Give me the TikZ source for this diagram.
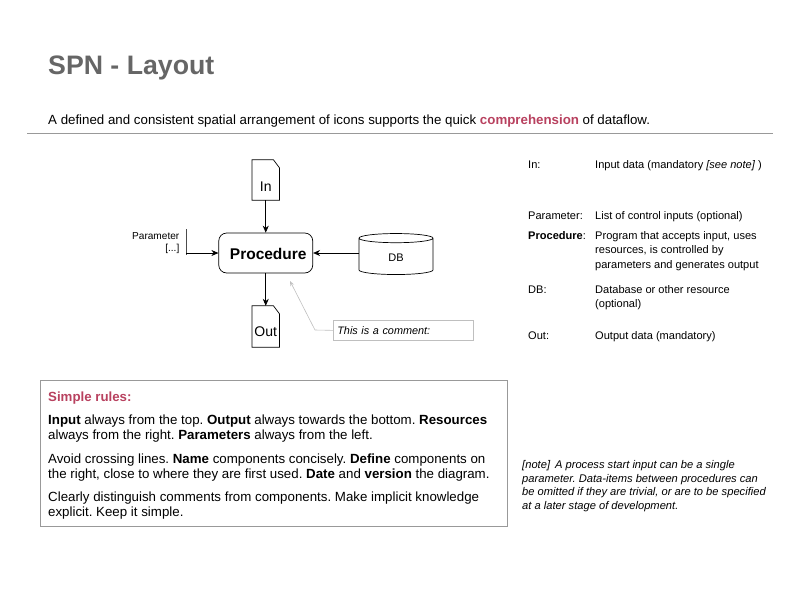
\documentclass[tikz,border=0pt]{standalone}
\usepackage{fontspec}
\setmainfont{Liberation Sans}
\usetikzlibrary{arrows.meta,positioning,shapes.geometric}
\definecolor{titlegray}{HTML}{666666}
\definecolor{rulegray}{HTML}{999999}
\definecolor{accent}{HTML}{B8415F}
\AtBeginDocument{\frenchspacing}
\newcommand{\docframe}[1]{\draw[line width=0.7pt] (#1.south west) -- (#1.north west) -- ([xshift=-6pt]#1.north east) -- ([yshift=-8pt]#1.north east) -- (#1.south east) -- cycle;}
\newcommand{\lowered}[2]{\raisebox{-#1}[0pt][0pt]{#2}}

\begin{document}
\begin{tikzpicture}[
  x=1pt, y=-1pt,
  lead/.style={anchor=base west, inner sep=0pt, font=\fontsize{13.3}{16}\selectfont},
  defn/.style={anchor=north west, inner sep=0pt, align=left, font=\fontsize{11.05}{14.2}\selectfont, execute at begin node=\strut},
  rule/.style={anchor=north west, inner sep=0pt, align=left, font=\fontsize{13.3}{14.5}\selectfont},
  doc/.style={minimum width=27pt, minimum height=40pt, inner sep=0pt, font=\fontsize{14}{16}\selectfont},
  proc/.style={rectangle, draw, rounded corners=8pt, line width=0.7pt, minimum width=94pt, minimum height=40pt,
    font=\bfseries\fontsize{15.5}{16}\selectfont},
  store/.style={cylinder, shape border rotate=90, draw, line width=0.7pt, aspect=0.6, minimum width=74pt, minimum height=41pt,
    inner sep=0pt, font=\fontsize{11}{13}\selectfont},
  rel/.style={-{Stealth[length=7pt,width=6pt]}, line width=0.7pt},
  note/.style={-{Stealth[open,length=5pt,width=4pt]}, draw=black!25, line width=0.6pt}
]
  \useasboundingbox (0,0) rectangle (800,600);

  % heading
  \node[anchor=base west, inner sep=0pt, text=titlegray, font=\bfseries\fontsize{26.7}{30}\selectfont] (title) at (48,74) {SPN - Layout};
  \node[lead] (intro) at (48,124) {A defined and consistent spatial arrangement of icons supports the quick \textbf{\textcolor{accent}{comprehension}} of dataflow.};
  \coordinate (ruleL) at (27,133.5);
  \coordinate (ruleR) at (773,133.5);
  \draw[rulegray, line width=0.8pt] (ruleL) -- (ruleR);

  % diagram
  \node[doc] (in) at (265.75,180) {\lowered{11pt}{In}};
  \node[proc] (proc) at (265.75,253) {\hspace{5pt}\lowered{6.5pt}{Procedure}};
  \node[doc, minimum height=41pt] (out) at (265.75,326.5) {\lowered{9.5pt}{Out}};
  \docframe{in}
  \docframe{out}
  \node[store] (db) at (396,256.5) {\lowered{4.5pt}{DB}};
  \node[fill=black!70, inner sep=0pt, minimum width=0.7pt, minimum height=26pt] (bar) at (186,242) {};
  \node[anchor=north east, inner sep=0pt, align=right, font=\fontsize{10.1}{12}\selectfont] (param) at (179.5,232) {Parameter\\{[...]}};
  \coordinate (barfoot) at (186,253);
  \coordinate (dbport) at (359,253);

  \draw[rel] (in) -- (proc);
  \draw[rel] (proc) -- (out);
  \draw[rel] (dbport) -- (proc);
  \draw[rel] (barfoot) -- (proc);

  % comment
  \node[draw=black!25, line width=0.7pt, anchor=north west, minimum width=140pt, minimum height=20pt, inner sep=0pt, text width=132pt, align=left, font=\itshape\fontsize{10.85}{13}\selectfont] (comment) at (333,320) {This is a comment:};
  \coordinate (commentbend) at (315,330);
  \coordinate (commenttip) at (290,281);
  \draw[note] (comment.west) -- (commentbend) -- (commenttip);

  % definitions
  \node[defn] (d1) at (528,158) {In:};
  \node[defn] (t1) at (595,158) {Input data (mandatory \textit{[see note]} )};
  \node[defn] (d2) at (528,209) {Parameter:};
  \node[defn] (t2) at (595,209) {List of control inputs (optional)};
  \node[defn] (d3) at (528,229.5) {\textbf{Procedure}:};
  \node[defn] (t3) at (595,231.5) {Program that accepts input, uses\\resources, is controlled by\\parameters and generates output};
  \node[defn] (d4) at (528,283) {DB:};
  \node[defn] (t4) at (595,285) {Database or other resource\\(optional)};
  \node[defn] (d5) at (528,329) {Out:};
  \node[defn] (t5) at (595,329) {Output data (mandatory)};

  % rules
  \node[draw=rulegray, line width=0.8pt, anchor=north west, minimum width=467pt, minimum height=146pt, inner sep=0pt] (box) at (40,380) {};
  \node[anchor=base west, inner sep=0pt, text=accent, font=\bfseries\fontsize{13.27}{16}\selectfont] (rtitle) at (48,401) {Simple rules:};
  \node[rule] (r1) at (48,415) {\textbf{Input} always from the top. \textbf{Output} always towards the bottom. \textbf{Resources}\\always from the right. \textbf{Parameters} always from the left.};
  \node[rule] (r2) at (48,454) {Avoid crossing lines. \textbf{Name} components concisely. \textbf{Define} components on\\the right, close to where they are first used. \textbf{Date} and \textbf{version} the diagram.};
  \node[rule] (r3) at (48,492) {Clearly distinguish comments from components. Make implicit knowledge\\explicit. Keep it simple.};

  % footnote
  \node[anchor=north west, inner sep=0pt, align=left, font=\itshape\fontsize{11.15}{13.8}\selectfont] (fn) at (522,460) {[note]\, A process start input can be a single\\parameter. Data-items between procedures can\\be omitted if they are trivial, or are to be specified\\at a later stage of development.};
\end{tikzpicture}
\end{document}
